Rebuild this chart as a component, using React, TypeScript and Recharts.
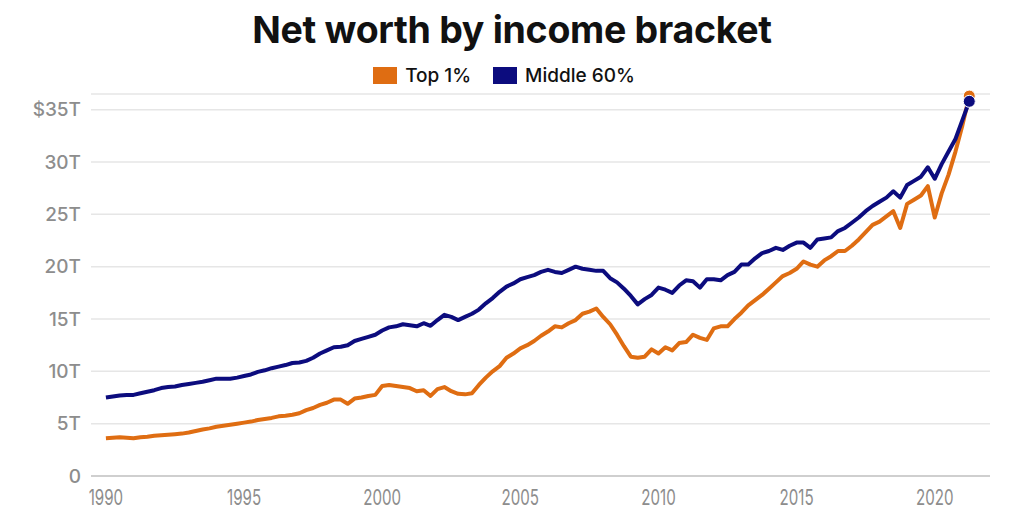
import React from 'react';
import { LineChart, Line, XAxis, YAxis, CartesianGrid } from 'recharts';

// Quarterly net worth, trillions of dollars, 1990 Q1 – 2021 Q2
const FIRST_YEAR = 1990;

const top1 = [
  3.6, 3.65, 3.7, 3.65, // 1990
  3.6, 3.7, 3.76, 3.85, // 1991
  3.9, 3.95, 4.0, 4.05, // 1992
  4.15, 4.3, 4.45, 4.55, // 1993
  4.7, 4.8, 4.9, 5.0, // 1994
  5.1, 5.2, 5.35, 5.45, // 1995
  5.55, 5.7, 5.75, 5.85, // 1996
  6.0, 6.3, 6.5, 6.8, // 1997
  7.0, 7.3, 7.3, 6.9, // 1998
  7.4, 7.5, 7.65, 7.75, // 1999
  8.6, 8.7, 8.6, 8.5, // 2000
  8.4, 8.1, 8.2, 7.65, // 2001
  8.3, 8.5, 8.1, 7.85, // 2002
  7.8, 7.9, 8.7, 9.4, // 2003
  10.0, 10.5, 11.3, 11.7, // 2004
  12.2, 12.5, 12.9, 13.4, // 2005
  13.8, 14.3, 14.2, 14.6, // 2006
  14.9, 15.5, 15.7, 16.0, // 2007
  15.2, 14.5, 13.5, 12.4, // 2008
  11.4, 11.3, 11.4, 12.1, // 2009
  11.7, 12.3, 12.0, 12.7, // 2010
  12.8, 13.5, 13.2, 13.0, // 2011
  14.1, 14.3, 14.3, 15.0, // 2012
  15.6, 16.3, 16.8, 17.3, // 2013
  17.9, 18.5, 19.1, 19.4, // 2014
  19.8, 20.5, 20.2, 20.0, // 2015
  20.6, 21.0, 21.5, 21.5, // 2016
  22.0, 22.6, 23.3, 24.0, // 2017
  24.3, 24.8, 25.3, 23.7, // 2018
  26.0, 26.4, 26.8, 27.7, // 2019
  24.7, 27.0, 28.8, 31.0, // 2020
  33.5, 36.3, // 2021
];

const middle60 = [
  7.5, 7.6, 7.7, 7.75, // 1990
  7.75, 7.9, 8.05, 8.2, // 1991
  8.4, 8.5, 8.55, 8.7, // 1992
  8.8, 8.9, 9.0, 9.15, // 1993
  9.3, 9.3, 9.3, 9.4, // 1994
  9.55, 9.7, 9.95, 10.1, // 1995
  10.3, 10.45, 10.6, 10.8, // 1996
  10.85, 11.0, 11.3, 11.7, // 1997
  12.0, 12.3, 12.35, 12.5, // 1998
  12.9, 13.1, 13.3, 13.5, // 1999
  13.9, 14.2, 14.3, 14.5, // 2000
  14.4, 14.3, 14.6, 14.35, // 2001
  14.9, 15.4, 15.2, 14.9, // 2002
  15.2, 15.5, 15.9, 16.5, // 2003
  17.0, 17.6, 18.1, 18.4, // 2004
  18.8, 19.0, 19.2, 19.5, // 2005
  19.7, 19.5, 19.4, 19.7, // 2006
  20.0, 19.8, 19.7, 19.6, // 2007
  19.6, 18.9, 18.5, 17.9, // 2008
  17.2, 16.4, 16.9, 17.3, // 2009
  18.0, 17.8, 17.5, 18.2, // 2010
  18.7, 18.6, 18.0, 18.8, // 2011
  18.8, 18.7, 19.2, 19.5, // 2012
  20.2, 20.2, 20.8, 21.3, // 2013
  21.5, 21.8, 21.6, 22.0, // 2014
  22.3, 22.3, 21.8, 22.6, // 2015
  22.7, 22.8, 23.4, 23.7, // 2016
  24.2, 24.7, 25.3, 25.8, // 2017
  26.2, 26.6, 27.2, 26.6, // 2018
  27.8, 28.2, 28.6, 29.5, // 2019
  28.4, 29.8, 31.0, 32.2, // 2020
  34.0, 35.8, // 2021
];

const yearTicks = [1990, 1995, 2000, 2005, 2010, 2015, 2020];
const valueTicks = [0, 5, 10, 15, 20, 25, 30, 35];

const ORANGE = '#df6d12';
const NAVY = '#0c0c7e';
const GREY_TEXT = '#8d8d8d';
const FONT = 'Inter, "Noto Sans", sans-serif';

const data = top1.map((v, i) => ({
  t: FIRST_YEAR + i / 4,
  top1: v,
  middle60: middle60[i],
}));
const LAST = data.length - 1;

function formatValue(v: number): string {
  if (v === 0) return '0';
  if (v === 35) return '$35T';
  return `${v}T`;
}

// narrow-looking year labels
function YearTick(props: any) {
  const { x, y, payload } = props;
  return (
    <g transform={`translate(${x},${y})`}>
      <text
        x={0}
        y={0}
        dy={21}
        textAnchor="middle"
        fill={GREY_TEXT}
        fontSize={21}
        fontFamily={FONT}
        transform="scale(0.72,1)"
      >
        {payload.value}
      </text>
    </g>
  );
}

function endDot(color: string) {
  return (props: any) => {
    const { cx, cy, index } = props;
    if (index !== LAST) return <g key={`d-${index}`} />;
    return <circle key={`d-${index}`} cx={cx} cy={cy} r={6} fill={color} stroke="#ffffff" strokeWidth={1} />;
  };
}

function LegendItem({ color, label }: { color: string; label: string }) {
  return (
    <span style={{ display: 'flex', alignItems: 'center', gap: 8 }}>
      <span style={{ display: 'inline-block', width: 24, height: 17, background: color }} />
      <span>{label}</span>
    </span>
  );
}

export default function App() {
  return (
    <div
      style={{
        position: 'absolute',
        left: 0,
        top: 0,
        width: 1024,
        height: 512,
        background: '#ffffff',
        fontFamily: FONT,
        overflow: 'hidden',
      }}
    >
      <div
        style={{
          position: 'absolute',
          top: 7,
          left: 0,
          width: 1024,
          textAlign: 'center',
          fontSize: 37.5,
          fontWeight: 700,
          color: '#111111',
          letterSpacing: -0.3,
        }}
      >
        Net worth by income bracket
      </div>
      <div
        style={{
          position: 'absolute',
          top: 64,
          left: 0,
          width: 1024,
          display: 'flex',
          justifyContent: 'center',
          gap: 22,
          fontSize: 19,
          fontWeight: 500,
          color: '#111111',
          paddingRight: 16,
          boxSizing: 'border-box',
        }}
      >
        <LegendItem color={ORANGE} label="Top 1%" />
        <LegendItem color={NAVY} label="Middle 60%" />
      </div>

      <div style={{ position: 'absolute', left: 0, top: 0 }}>
        <LineChart
          width={1024}
          height={512}
          data={data}
          margin={{ top: 94, right: 34, bottom: 0, left: 0 }}
        >
          <CartesianGrid vertical={false} stroke="#e6e6e6" strokeWidth={1.5} />
          <XAxis
            dataKey="t"
            type="number"
            domain={[1989.46, 2022]}
            allowDataOverflow
            ticks={yearTicks}
            tickLine={false}
            axisLine={{ stroke: '#cfcfcf', strokeWidth: 2 }}
            height={36}
            tick={<YearTick />}
            interval={0}
          />
          <YAxis
            type="number"
            domain={[0, 36.5]}
            ticks={valueTicks}
            tickFormatter={formatValue}
            width={91}
            axisLine={false}
            tickLine={false}
            tickSize={6}
            tickMargin={4}
            interval={0}
            tick={{ fill: GREY_TEXT, fontSize: 19, fontWeight: 500, fontFamily: FONT }}
          />
          <Line
            dataKey="top1"
            type="linear"
            stroke={ORANGE}
            strokeWidth={4}
            strokeLinejoin="round"
            dot={endDot(ORANGE)}
            activeDot={false}
            isAnimationActive={false}
          />
          <Line
            dataKey="middle60"
            type="linear"
            stroke={NAVY}
            strokeWidth={4}
            strokeLinejoin="round"
            dot={endDot(NAVY)}
            activeDot={false}
            isAnimationActive={false}
          />
        </LineChart>
      </div>
    </div>
  );
}
